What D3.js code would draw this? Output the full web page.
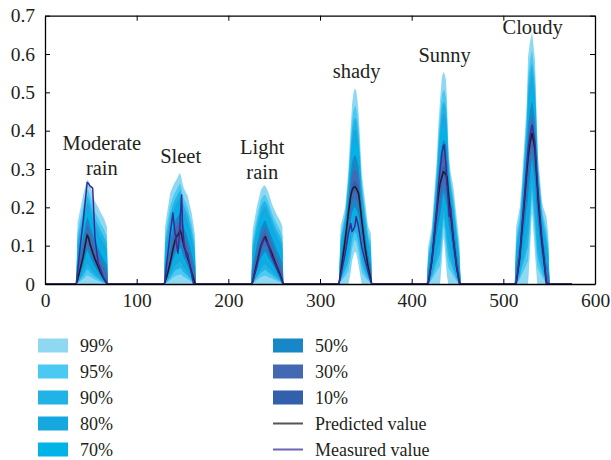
<!DOCTYPE html>
<html>
<head>
<meta charset="utf-8">
<script src="https://cdn.jsdelivr.net/npm/d3@7"></script>
<style>
  body { margin: 0; background: #fff; }
  text { font-family: "Liberation Serif", "DejaVu Serif", serif; fill: #231f20; }
</style>
</head>
<body>
<div id="chart"></div>
<script>
// ---- data ----
const xTicks = [0, 100, 200, 300, 400, 500, 600];
const yTicks = [0, 0.1, 0.2, 0.3, 0.4, 0.5, 0.6, 0.7];
const bandLabels = ["99%", "95%", "90%", "80%", "70%", "50%", "30%", "10%"];
const bandColors = ["#8fd8f2", "#4ac9f3", "#22b3e6", "#15a8df", "#02b3e7", "#1787c8", "#4369b3", "#3360ac"];
// share of the 99% spread that each band keeps
const bandSpread = [1, 0.82, 0.7, 0.58, 0.46, 0.32, 0.18, 0.06];
const weatherNames = [["Moderate", "rain"], ["Sleet"], ["Light", "rain"], ["shady"], ["Sunny"], ["Cloudy"]];
const seriesStart = 0;
const seriesEnd = 575;

// Moderate rain
const rainX = [34, 35.5, 38, 41.5, 44.5, 46, 47.5, 49, 52, 53, 54.5, 58, 61, 64.5, 67.5, 68.5];
const rainPred = [0, 0.01, 0.035, 0.07, 0.11, 0.128, 0.12, 0.105, 0.082, 0.075, 0.065, 0.045, 0.028, 0.012, 0.002, 0];
const rainMeas = [0, 0.03, 0.09, 0.16, 0.23, 0.265, 0.262, 0.256, 0.25, 0.2, 0.12, 0.055, 0.035, 0.012, 0, 0];
const rainUp = [0, 0.16, 0.19, 0.23, 0.26, 0.272, 0.268, 0.26, 0.235, 0.225, 0.215, 0.2, 0.185, 0.17, 0.15, 0];
const rainLow = [0, 0, 0, 0, 0, 0, 0, 0, 0, 0, 0, 0, 0, 0, 0, 0];

// Sleet
const sleetX = [130, 131, 133.5, 136.5, 139.5, 141.5, 143, 145, 146.5, 147.5, 149, 150, 151.5, 154.5, 155.5, 157.5, 160, 162, 163.5, 164.5];
const sleetPred = [0, 0.005, 0.025, 0.054, 0.09, 0.11, 0.123, 0.128, 0.135, 0.14, 0.13, 0.115, 0.1, 0.078, 0.068, 0.054, 0.03, 0.015, 0.003, 0];
const sleetMeas = [0, 0.01, 0.07, 0.13, 0.185, 0.14, 0.115, 0.08, 0.123, 0.17, 0.232, 0.158, 0.107, 0.071, 0.08, 0.054, 0.025, 0, 0, 0];
const sleetUp = [0, 0.15, 0.19, 0.237, 0.255, 0.265, 0.27, 0.28, 0.288, 0.289, 0.275, 0.263, 0.25, 0.235, 0.232, 0.21, 0.185, 0.155, 0.13, 0];
const sleetLow = [0, 0, 0, 0, 0, 0, 0, 0, 0, 0, 0, 0, 0, 0, 0, 0, 0, 0, 0, 0];

// Light rain
const lightX = [225, 226.5, 231, 235.5, 239, 240.5, 243.5, 247.5, 249, 253, 256.5, 259, 260];
const lightPred = [0, 0.005, 0.054, 0.1, 0.12, 0.123, 0.102, 0.08, 0.07, 0.045, 0.025, 0.008, 0];
const lightMeas = [0, 0.005, 0.045, 0.097, 0.119, 0.115, 0.102, 0.07, 0.063, 0.04, 0.02, 0.003, 0];
const lightUp = [0, 0.141, 0.2, 0.245, 0.258, 0.255, 0.241, 0.21, 0.2, 0.18, 0.165, 0.15, 0];
const lightLow = [0, 0, 0, 0, 0, 0, 0, 0, 0, 0, 0, 0, 0];

// shady
const shadyX = [320.5, 322.5, 327.5, 331, 333.5, 335, 336.5, 338, 339.5, 340.5, 342, 343, 345.5, 349, 352.5, 355.5, 356.5];
const shadyPred = [0, 0.028, 0.115, 0.185, 0.23, 0.245, 0.252, 0.254, 0.25, 0.245, 0.237, 0.22, 0.167, 0.097, 0.045, 0.012, 0];
const shadyMeas = [0, 0.02, 0.08, 0.132, 0.158, 0.137, 0.142, 0.15, 0.176, 0.165, 0.15, 0.135, 0.097, 0.063, 0.032, 0.005, 0];
const shadyUp = [0, 0.15, 0.2, 0.3, 0.41, 0.47, 0.498, 0.511, 0.505, 0.489, 0.45, 0.41, 0.289, 0.219, 0.15, 0.132, 0];
const shadyLow = [0, 0, 0, 0, 0.03, 0.06, 0.075, 0.085, 0.08, 0.07, 0.05, 0.035, 0, 0, 0, 0, 0];

// Sunny
const sunnyX = [416.5, 418, 422, 423.5, 427.5, 429, 431, 433, 434.5, 435.5, 437.5, 438.5, 440, 441, 442.5, 445.5, 449, 452, 453.5];
const sunnyPred = [0, 0, 0.06, 0.097, 0.193, 0.225, 0.263, 0.28, 0.293, 0.292, 0.285, 0.28, 0.24, 0.215, 0.185, 0.115, 0.045, 0.005, 0];
const sunnyMeas = [0, 0, 0.06, 0.097, 0.2, 0.25, 0.298, 0.341, 0.36, 0.363, 0.306, 0.26, 0.219, 0.176, 0.2, 0.115, 0.045, 0, 0];
const sunnyUp = [0, 0.097, 0.15, 0.2, 0.33, 0.41, 0.48, 0.541, 0.552, 0.552, 0.533, 0.48, 0.367, 0.33, 0.29, 0.254, 0.176, 0.11, 0];
const sunnyLow = [0, 0, 0, 0, 0, 0, 0, 0.06, 0.12, 0.11, 0.05, 0.02, 0, 0, 0, 0, 0, 0, 0];

// Cloudy
const cloudyX = [512.5, 514, 518, 520, 523.5, 525.5, 527, 529, 531, 531.5, 534.5, 537, 538, 542, 543.5, 547, 549, 550.5];
const cloudyPred = [0, 0, 0.07, 0.132, 0.23, 0.289, 0.33, 0.367, 0.39, 0.393, 0.35, 0.26, 0.219, 0.11, 0.08, 0, 0, 0];
const cloudyMeas = [0, 0, 0.075, 0.14, 0.24, 0.306, 0.35, 0.385, 0.412, 0.415, 0.367, 0.27, 0.237, 0.12, 0.087, 0.003, 0, 0];
const cloudyUp = [0, 0.15, 0.2, 0.26, 0.393, 0.47, 0.593, 0.63, 0.654, 0.654, 0.585, 0.393, 0.33, 0.219, 0.2, 0.176, 0.132, 0];
const cloudyLow = [0, 0, 0, 0, 0, 0, 0, 0.08, 0.18, 0.18, 0.08, 0, 0, 0, 0, 0, 0, 0];

// label anchors in data units (centre x, first line baseline y)
const labelX = [62, 148, 237, 340, 436, 532];
const labelY = [0.35, 0.315, 0.34, 0.537, 0.58, 0.653];

const peaks = [
    { x: rainX, pred: rainPred, meas: rainMeas, up: rainUp, low: rainLow },
    { x: sleetX, pred: sleetPred, meas: sleetMeas, up: sleetUp, low: sleetLow },
    { x: lightX, pred: lightPred, meas: lightMeas, up: lightUp, low: lightLow },
    { x: shadyX, pred: shadyPred, meas: shadyMeas, up: shadyUp, low: shadyLow },
    { x: sunnyX, pred: sunnyPred, meas: sunnyMeas, up: sunnyUp, low: sunnyLow },
    { x: cloudyX, pred: cloudyPred, meas: cloudyMeas, up: cloudyUp, low: cloudyLow },
];

// ---- layout ----
const width = 611;
const height = 460;
const margin = { top: 15.7, right: 16, bottom: 176, left: 45 };
const plotW = width - margin.left - margin.right;
const plotH = height - margin.top - margin.bottom;

const svg = d3.select("#chart").append("svg")
    .attr("width", width)
    .attr("height", height);

const x = d3.scaleLinear().domain([0, 600]).range([0, plotW]);
const y = d3.scaleLinear().domain([0, 0.7]).range([plotH, 0]);

const plot = svg.append("g")
    .attr("transform", "translate(" + margin.left + "," + margin.top + ")");

// bands, widest first
const area = d3.area()
    .x(d => x(d.x))
    .y0(d => y(d.lo))
    .y1(d => y(d.hi));

bandSpread.forEach((f, b) => {
    peaks.forEach(p => {
        const pts = p.x.map((xv, i) => ({
            x: xv,
            hi: p.pred[i] + f * (p.up[i] - p.pred[i]),
            lo: p.pred[i] - f * (p.pred[i] - p.low[i]),
        }));
        plot.append("path")
            .datum(pts)
            .attr("fill", bandColors[b])
            .attr("d", area);
    });
});

// full series: baseline between the peaks
function buildSeries(key) {
    let pts = [{ x: seriesStart, v: 0 }];
    peaks.forEach(p => {
        p.x.forEach((xv, i) => pts.push({ x: xv, v: p[key][i] }));
    });
    pts.push({ x: seriesEnd, v: 0 });
    return pts;
}

const line = d3.line()
    .x(d => x(d.x))
    .y(d => y(d.v));

plot.append("path")
    .datum(buildSeries("pred"))
    .attr("fill", "none")
    .attr("stroke", "#1e1a2a")
    .attr("stroke-width", 1.5)
    .attr("stroke-linejoin", "round")
    .attr("d", line);

plot.append("path")
    .datum(buildSeries("meas"))
    .attr("fill", "none")
    .attr("stroke", "#3a2c94")
    .attr("stroke-width", 1.5)
    .attr("stroke-linejoin", "round")
    .attr("d", line);

// axes (box with inward ticks)
const axisFont = 19.5;
const xAxis = plot.append("g")
    .attr("transform", "translate(0," + plotH + ")")
    .call(d3.axisBottom(x).tickValues(xTicks).tickSizeInner(-5).tickSizeOuter(0).tickPadding(9).tickFormat(d3.format("d")));
const yAxis = plot.append("g")
    .call(d3.axisLeft(y).tickValues(yTicks).tickSizeInner(-5).tickSizeOuter(0).tickPadding(10).tickFormat(d => d === 0 ? "0" : d3.format(".1f")(d)));
const xTop = plot.append("g")
    .call(d3.axisTop(x).tickValues(xTicks).tickSizeInner(-5).tickSizeOuter(0).tickFormat(""));
const yRight = plot.append("g")
    .attr("transform", "translate(" + plotW + ",0)")
    .call(d3.axisRight(y).tickValues(yTicks).tickSizeInner(-5).tickSizeOuter(0).tickFormat(""));

[xAxis, yAxis, xTop, yRight].forEach(g => {
    g.select(".domain").attr("stroke", "#000").attr("stroke-width", 1.3);
    g.selectAll(".tick line").attr("stroke", "#000").attr("stroke-width", 1);
    g.selectAll("text")
        .style("font-family", "'Liberation Serif', serif")
        .style("font-size", axisFont + "px")
        .attr("fill", "#231f20");
});

// weather labels
weatherNames.forEach((lines, i) => {
    const t = plot.append("text")
        .attr("x", x(labelX[i]))
        .attr("y", y(labelY[i]))
        .attr("text-anchor", "middle")
        .style("font-size", "20.5px");
    lines.forEach((s, j) => {
        t.append("tspan")
            .attr("x", x(labelX[i]))
            .attr("dy", j === 0 ? 0 : 25.5)
            .text(s);
    });
});

// legend
const legend = svg.append("g");
const legendItems = bandLabels.map((l, i) => ({ label: l, type: "box", color: bandColors[i] }))
    .concat([
        { label: "Predicted value", type: "line", color: "#555" },
        { label: "Measured value", type: "line", color: "#6b63b4" },
    ]);
legendItems.forEach((d, i) => {
    const col = i < 5 ? 0 : 1;
    const row = i % 5;
    const gx = col === 0 ? 38 : 273;
    const gy = 345.5 + row * 26;
    if (d.type === "box") {
        legend.append("rect")
            .attr("x", gx).attr("y", gy - 7)
            .attr("width", 30).attr("height", 14)
            .attr("fill", d.color);
    } else {
        legend.append("line")
            .attr("x1", gx).attr("x2", gx + 30)
            .attr("y1", gy).attr("y2", gy)
            .attr("stroke", d.color).attr("stroke-width", 2);
    }
    legend.append("text")
        .attr("x", gx + 42).attr("y", gy + 6)
        .style("font-size", "18px")
        .text(d.label);
});
</script>
</body>
</html>
